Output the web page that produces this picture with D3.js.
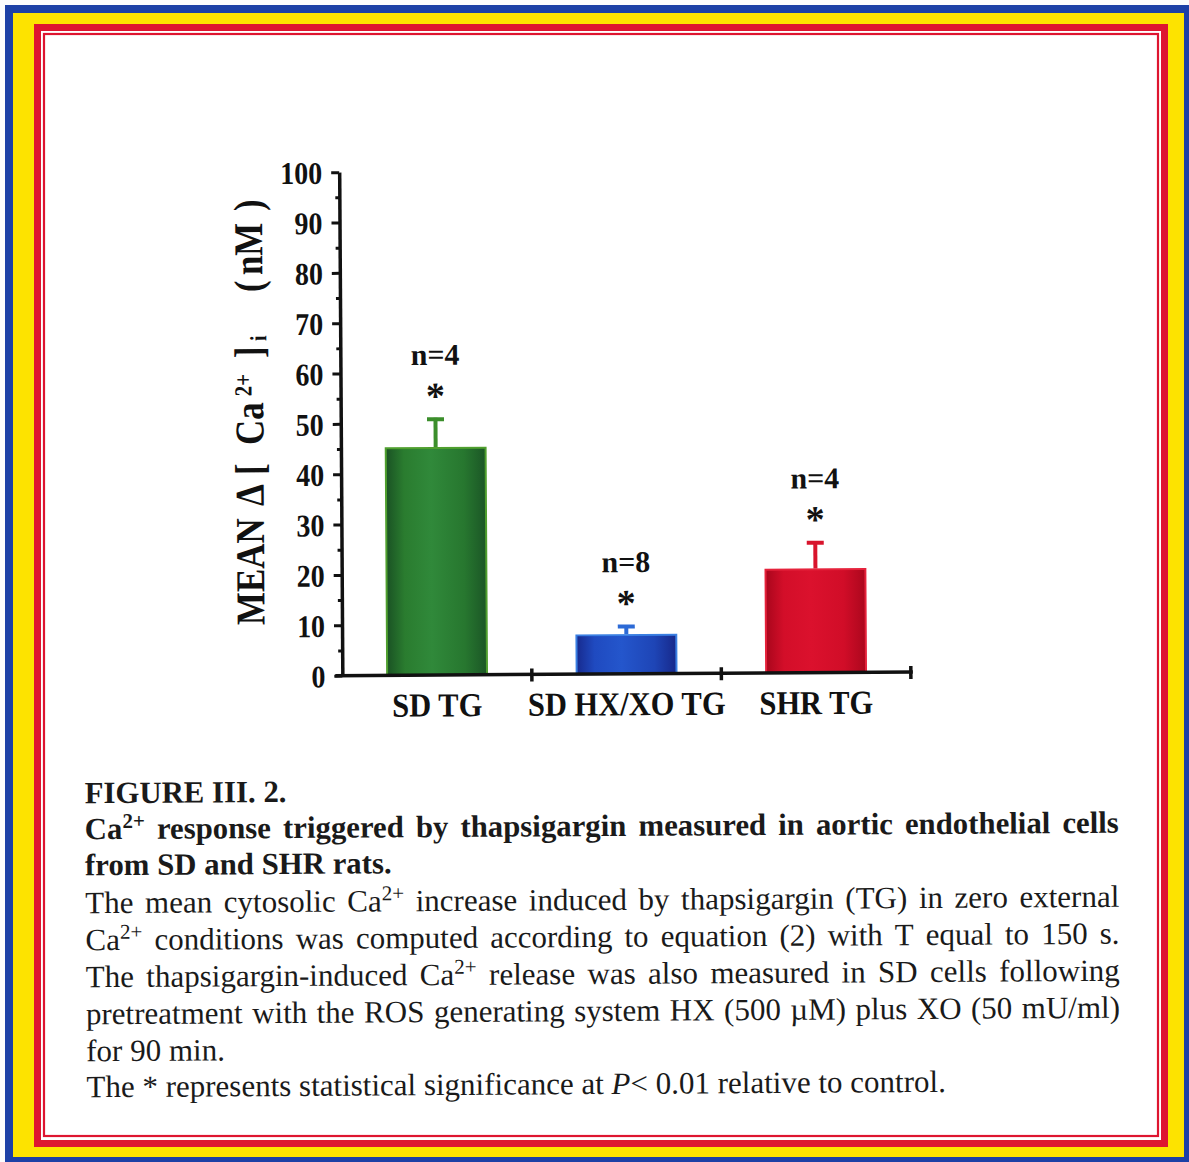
<!DOCTYPE html>
<html><head><meta charset="utf-8">
<script src="https://cdn.jsdelivr.net/npm/d3@7"></script>
<style>body{margin:0;background:#fff}</style>
</head><body>
<svg id="c" width="1189" height="1162" xmlns="http://www.w3.org/2000/svg"></svg>
<script>
// ---------- data ----------
const categories = ["SD TG", "SD HX/XO TG", "SHR TG"];
const means = [45.1, 7.7, 20.5];
const sems = [6.0, 2.0, 5.6];
const nLabels = ["n=4", "n=8", "n=4"];
const sigMarks = ["*", "*", "*"];
const yTicks = [0, 10, 20, 30, 40, 50, 60, 70, 80, 90, 100];
const yMinorTicks = [5, 15, 25, 35, 45, 55, 65, 75, 85, 95];
const yLabelParts = [
  {t: "MEAN", at: 0}, {t: "Δ", at: 119}, {t: "[", at: 150}, {t: "Ca", at: 180},
  {t: "2+", sup: true, at: 229}, {t: "]", at: 267}, {t: "i", sub: true, at: 284},
  {t: "(", at: 333}, {t: "nM", at: 350}, {t: ")", at: 414}
];
const captionBold = [
  "FIGURE III. 2.",
  "Ca^{2+} response triggered by thapsigargin measured in aortic endothelial cells",
  "from SD and SHR rats."
];
const captionBody = [
  "The mean cytosolic Ca^{2+} increase induced by thapsigargin (TG) in zero external",
  "Ca^{2+} conditions was computed according to equation (2) with T equal to 150 s.",
  "The thapsigargin-induced Ca^{2+} release was also measured in SD cells following",
  "pretreatment with the ROS generating system HX (500 µM) plus XO (50 mU/ml)",
  "for 90 min.",
  "The * represents statistical significance at _P_< 0.01 relative to control."
];
const justifyBold = [false, true, false];
const justifyBody = [true, true, true, true, false, false];

// ---------- styles ----------
const FONT = "'Liberation Serif','Times New Roman',Times,serif";
const palette = [
  {stops: ["#1a5224", "#2a7c2f", "#30893a", "#27772f", "#1b5626"], edge: "#4f9f2e", err: "#3b8e2b"},
  {stops: ["#172a8e", "#1f4ac0", "#2456cc", "#1e45b6", "#17288a"], edge: "#3a7fe2", err: "#2c6ad6"},
  {stops: ["#a9061c", "#d30e29", "#db112d", "#d10d28", "#ab071d"], edge: "#e5223b", err: "#d8142c"}
];

const svg = d3.select("#c");
svg.append("rect").attr("width", 1189).attr("height", 1162).attr("fill", "#fbfcfd");

// ---------- border frame ----------
const frame = [
  {x0: 5, y0: 5, x1: 1189, y1: 1162, fill: "#1c40a6"},
  {x0: 13, y0: 13, x1: 1184, y1: 1157, fill: "#fde300"},
  {x0: 34, y0: 24, x1: 1168, y1: 1147, fill: "#de1530"},
  {x0: 41, y0: 31, x1: 1161, y1: 1140, fill: "#ffffff"}
];
svg.selectAll("rect.frame").data(frame).join("rect")
  .attr("class", "frame")
  .attr("x", d => d.x0).attr("y", d => d.y0)
  .attr("width", d => d.x1 - d.x0).attr("height", d => d.y1 - d.y0)
  .attr("fill", d => d.fill);
svg.append("rect").attr("x", 44).attr("y", 34).attr("width", 1114).attr("height", 1102)
  .attr("fill", "none").attr("stroke", "#de1530").attr("stroke-width", 2.2);

// ---------- gradients ----------
const defs = svg.append("defs");
palette.forEach((p, i) => {
  const g = defs.append("linearGradient").attr("id", "g" + i)
    .attr("x1", "0%").attr("x2", "100%").attr("y1", "0%").attr("y2", "0%");
  const offs = [0, 0.18, 0.45, 0.78, 1];
  p.stops.forEach((c, k) => g.append("stop").attr("offset", offs[k]).attr("stop-color", c));
});

// whole page content is slightly tilted, like the scanned original
const page = svg.append("g").attr("transform", "rotate(-0.36,600,700)");

// ---------- chart ----------
const x = d3.scaleBand().domain(categories).range([342.5, 911]).paddingInner(0.473).paddingOuter(0.2365);
const y = d3.scaleLinear().domain([0, 100]).range([674, 170.5]);
const chart = page.append("g");

// bars
const bw = x.bandwidth();
chart.selectAll("rect.bar").data(categories).join("rect")
  .attr("class", "bar")
  .attr("x", d => x(d)).attr("width", bw)
  .attr("y", (d, i) => y(means[i])).attr("height", (d, i) => y(0) - y(means[i]))
  .attr("fill", (d, i) => `url(#g${i})`)
  .attr("stroke", (d, i) => palette[i].edge).attr("stroke-width", 2);

// error bars (upper only)
const eb = chart.selectAll("g.err").data(categories).join("g").attr("class", "err");
eb.append("line")
  .attr("x1", d => x(d) + bw / 2).attr("x2", d => x(d) + bw / 2)
  .attr("y1", (d, i) => y(means[i]) - 1).attr("y2", (d, i) => y(means[i] + sems[i]))
  .attr("stroke", (d, i) => palette[i].err).attr("stroke-width", 4);
eb.append("line")
  .attr("x1", d => x(d) + bw / 2 - 8.5).attr("x2", d => x(d) + bw / 2 + 8.5)
  .attr("y1", (d, i) => y(means[i] + sems[i]) + 1.5).attr("y2", (d, i) => y(means[i] + sems[i]) + 1.5)
  .attr("stroke", (d, i) => palette[i].err).attr("stroke-width", 4);

// annotations
chart.selectAll("text.nlab").data(categories).join("text")
  .attr("class", "nlab")
  .attr("x", d => x(d) + bw / 2).attr("y", (d, i) => y(means[i] + sems[i]) - 53)
  .attr("text-anchor", "middle").attr("font-family", FONT).attr("font-weight", "bold")
  .attr("font-size", 30).attr("fill", "#111")
  .text((d, i) => nLabels[i]);
chart.selectAll("text.sig").data(categories).join("text")
  .attr("class", "sig")
  .attr("x", d => x(d) + bw / 2).attr("y", (d, i) => y(means[i] + sems[i]) - 9)
  .attr("text-anchor", "middle").attr("font-family", FONT).attr("font-weight", "bold")
  .attr("font-size", 38).attr("fill", "#111")
  .text((d, i) => sigMarks[i]);

// y axis
const ax0 = x.range()[0];
const yAxis = chart.append("g").attr("transform", `translate(${ax0},0)`)
  .call(d3.axisLeft(y).tickValues(yTicks).tickSize(8).tickSizeOuter(0).tickPadding(9).tickFormat(d3.format("d")));
yAxis.select(".domain").attr("stroke-width", 3.5).attr("stroke", "#111");
yAxis.selectAll(".tick line").attr("stroke-width", 3).attr("stroke", "#111");
yAxis.selectAll(".tick text").attr("font-family", FONT).attr("font-weight", "bold")
  .attr("font-size", 28).attr("fill", "#111").attr("dy", "0.35em")
  .attr("transform", "scale(1,1.13)");
const yMinor = chart.append("g").attr("transform", `translate(${ax0},0)`)
  .call(d3.axisLeft(y).tickValues(yMinorTicks).tickSize(4).tickFormat(""));
yMinor.select(".domain").remove();
yMinor.selectAll(".tick line").attr("stroke-width", 3).attr("stroke", "#111");

// x axis
const xAxis = chart.append("g").attr("transform", `translate(0,${y(0)})`)
  .call(d3.axisBottom(x).tickSize(0).tickPadding(16));
xAxis.select(".domain").remove();
xAxis.selectAll(".tick text").attr("font-family", FONT).attr("font-weight", "bold")
  .attr("font-size", 30.5).attr("fill", "#111").attr("transform", "scale(1,1.1)");
const gapHalf = x.step() * x.paddingInner() / 2;
const bounds = categories.map(c => x(c) + bw + gapHalf);
xAxis.append("line").attr("x1", x.range()[0] - 7).attr("x2", x.range()[1] + 2)
  .attr("y1", 0).attr("y2", 0).attr("stroke", "#111").attr("stroke-width", 3.5);
xAxis.selectAll("line.bt").data(bounds).join("line").attr("class", "bt")
  .attr("x1", d => d).attr("x2", d => d).attr("y1", -6).attr("y2", 7)
  .attr("stroke", "#111").attr("stroke-width", 3.5);

// y-axis title (rotated; laid out along the axis from its bottom end)
const yl = chart.append("text")
  .attr("transform", "translate(265,623) rotate(-90) scale(1,1.17)")
  .attr("text-anchor", "start").attr("font-family", FONT).attr("font-weight", "bold")
  .attr("font-size", 35).attr("fill", "#111");
yl.selectAll("tspan").data(yLabelParts).join("tspan")
  .attr("x", d => d.at)
  .attr("y", d => d.sup ? -10 : (d.sub ? 3 : 0))
  .attr("font-size", d => d.sup ? 21 : (d.sub ? 20 : 35))
  .text(d => d.t);

// ---------- caption ----------
function parseWord(w) {
  const parts = [];
  const re = /\^\{([^}]*)\}|_([^_]+)_|([^\^_]+)/g;
  let m;
  while ((m = re.exec(w))) {
    if (m[1] !== undefined) parts.push({t: m[1], sup: true});
    else if (m[2] !== undefined) parts.push({t: m[2], it: true});
    else parts.push({t: m[3]});
  }
  return parts;
}
function drawLine(g, line, x0, x1, yb, justify, weight, fs) {
  const words = line.split(" ").map(parseWord);
  const nodes = words.map(parts => {
    const t = g.append("text").attr("x", 0).attr("y", yb)
      .attr("font-family", FONT).attr("font-weight", weight).attr("font-size", fs).attr("fill", "#1a1a1a");
    let raised = false;
    parts.forEach(p => {
      const ts = t.append("tspan").text(p.t);
      if (p.sup) { ts.attr("font-size", fs * 0.68).attr("dy", -fs * 0.36); raised = true; }
      else if (raised) { ts.attr("dy", fs * 0.36); raised = false; }
      if (p.it) ts.attr("font-style", "italic");
    });
    return t;
  });
  const widths = nodes.map(n => n.node().getComputedTextLength());
  const total = d3.sum(widths);
  const gap = justify && nodes.length > 1 ? (x1 - x0 - total) / (nodes.length - 1) : fs * 0.25;
  let cx = x0;
  nodes.forEach((n, i) => { n.attr("x", cx); cx += widths[i] + gap; });
}
const cap = page.append("g");
const boldBase = [800, 836, 872];
const bodyBase = [910, 947, 984, 1021, 1058, 1094];
captionBold.forEach((l, i) => drawLine(cap, l, 84, 1118, boldBase[i], justifyBold[i], "bold", 30.8));
captionBody.forEach((l, i) => drawLine(cap, l, 84, 1118, bodyBase[i], justifyBody[i], "normal", 31));
</script>
</body></html>
